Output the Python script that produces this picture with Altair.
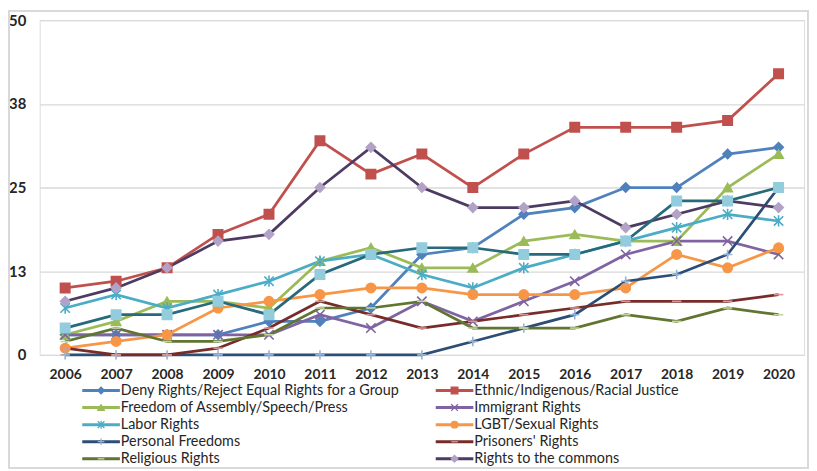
import altair as alt
import pandas as pd

years = list(range(2006, 2021))

series_names = [
    "Deny Rights/Reject Equal Rights for a Group",
    "Ethnic/Indigenous/Racial Justice",
    "Freedom of Assembly/Speech/Press",
    "Immigrant Rights",
    "Labor Rights",
    "LGBT/Sexual Rights",
    "Personal Freedoms",
    "Prisoners' Rights",
    "Religious Rights",
    "Rights to the commons",
    "Other Rights",
]

deny = [3, 3, 3, 3, 5, 5, 7, 15, 16, 21, 22, 25, 25, 30, 31]
ethnic = [10, 11, 13, 18, 21, 32, 27, 30, 25, 30, 34, 34, 34, 35, 42]
freedom = [3, 5, 8, 8, 7, 14, 16, 13, 13, 17, 18, 17, 17, 25, 30]
immigrant = [3, 3, 3, 3, 3, 6, 4, 8, 5, 8, 11, 15, 17, 17, 15]
labor = [7, 9, 7, 9, 11, 14, 15, 12, 10, 13, 15, 17, 19, 21, 20]
lgbt = [1, 2, 3, 7, 8, 9, 10, 10, 9, 9, 9, 10, 15, 13, 16]
personal = [0, 0, 0, 0, 0, 0, 0, 0, 2, 4, 6, 11, 12, 15, 25]
prisoners = [1, 0, 0, 1, 4, 8, 6, 4, 5, 6, 7, 8, 8, 8, 9]
religious = [2, 4, 2, 2, 3, 7, 7, 8, 4, 4, 4, 6, 5, 7, 6]
commons = [8, 10, 13, 17, 18, 25, 31, 25, 22, 22, 23, 19, 21, 23, 22]
other = [4, 6, 6, 8, 6, 12, 15, 16, 16, 15, 15, 17, 23, 23, 25]

all_values = [deny, ethnic, freedom, immigrant, labor, lgbt, personal,
              prisoners, religious, commons, other]

rows = []
for name, vals in zip(series_names, all_values):
    for y, v in zip(years, vals):
        rows.append({"series": name, "marker": name, "year": y, "value": v})
df = pd.DataFrame(rows)

# legend entries (first 10 series, 2 columns, row-major like the original)
legend_names = series_names[:10]
leg = pd.DataFrame({
    "series": legend_names,
    "marker": legend_names,
    "col": [i % 2 for i in range(len(legend_names))],
    "row": [i // 2 for i in range(len(legend_names))],
})

line_colors = ["#4F81BD", "#C0504D", "#9BBB59", "#8064A2", "#4BACC6", "#F79646",
               "#2C4D75", "#772C2A", "#5F7530", "#4D3B62", "#276A7C"]
marker_fill = ["#4F81BD", "#C0504D", "#9BBB59", "transparent", "transparent", "#F79646",
               "transparent", "transparent", "transparent", "#B3A2C7", "#93CDDD"]
marker_stroke = ["#4F81BD", "#C0504D", "#9BBB59", "#8064A2", "#4BACC6", "#F79646",
                 "#95B3D7", "#D99694", "#C3D69B", "#B3A2C7", "#93CDDD"]
X_PATH = "M-1,-1L1,1M-1,1L1,-1"
STAR_PATH = "M-1,-1L1,1M-1,1L1,-1M0,-1.2L0,1.2"
PLUS_PATH = "M-1,0L1,0M0,-1L0,1"
DASH_PATH = "M-1,0L1,0"
marker_shapes = ["diamond", "square", "triangle-up", X_PATH, STAR_PATH, "circle",
                 PLUS_PATH, DASH_PATH, DASH_PATH, "diamond", "square"]

FONT = "Lato"
TXT = "#262626"

color_scale = alt.Scale(domain=series_names, range=line_colors)
shape_enc = alt.Shape("marker:N", scale=alt.Scale(domain=series_names, range=marker_shapes), legend=None)
fill_enc = alt.Fill("marker:N", scale=alt.Scale(domain=series_names, range=marker_fill), legend=None)
stroke_enc = alt.Stroke("marker:N", scale=alt.Scale(domain=series_names, range=marker_stroke), legend=None)

x_enc = alt.X(
    "year:O",
    scale=alt.Scale(type="point", padding=0.5),
    axis=alt.Axis(title=None, labelAngle=0, domain=False, ticks=False, grid=False,
                  labelPadding=13, labelFont=FONT, labelFontSize=14,
                  labelFontWeight="bold", labelColor=TXT),
)
y_enc = alt.Y(
    "value:Q",
    scale=alt.Scale(domain=[0, 50], nice=False, zero=True),
    axis=alt.Axis(title=None, values=[0, 12.5, 25, 37.5, 50], format=".0f",
                  domain=False, ticks=False, labelPadding=14, labelFont=FONT,
                  labelFontSize=15, labelFontWeight="bold", labelColor=TXT,
                  gridColor="#D9D9D9", gridWidth=1.3),
)

lines = alt.Chart(df).mark_line(strokeWidth=2.75).encode(
    x=x_enc,
    y=y_enc,
    color=alt.Color("series:N", scale=color_scale, legend=None),
    order=alt.Order("year:O"),
)

points = alt.Chart(df).mark_point(size=90, strokeWidth=1.6, opacity=1).encode(
    x=x_enc,
    y=y_enc,
    shape=shape_enc,
    fill=fill_enc,
    stroke=stroke_enc,
)

main = alt.layer(lines, points)

# manual legend (own scales)
leg_x = alt.X("col:Q", scale=alt.Scale(domain=[0, 1], range=[43, 400]), axis=None)
leg_y = alt.Y("row:Q", scale=alt.Scale(domain=[0, 4], range=[374, 443]), axis=None)

leg_lines = alt.Chart(leg).mark_rule(strokeWidth=3, x2Offset=38).encode(
    x=leg_x, x2=alt.X2("col:Q"), y=leg_y,
    color=alt.Color("series:N", scale=color_scale, legend=None),
)
leg_points = alt.Chart(leg).mark_point(size=45, strokeWidth=1.3, opacity=1, xOffset=19).encode(
    x=leg_x, y=leg_y, shape=shape_enc, fill=fill_enc, stroke=stroke_enc,
)
leg_text = alt.Chart(leg).mark_text(align="left", baseline="middle", dx=39, dy=0.5,
                                    font=FONT, fontSize=14.5, color=TXT).encode(
    x=leg_x, y=leg_y, text="series:N",
)
legend = alt.layer(leg_lines, leg_points, leg_text)

frame = alt.Chart(leg).mark_rect(fill=None, stroke="#D9D9D9", strokeWidth=1.5).encode(
    x=alt.value(-31), x2=alt.value(776), y=alt.value(-9), y2=alt.value(452),
)

chart = alt.layer(main, legend, frame).resolve_scale(
    x="independent", y="independent"
).properties(
    width=772,
    height=338,
    autosize=alt.AutoSizeParams(type="none"),
    padding={"left": 32, "top": 10, "right": 5, "bottom": 115},
).configure_view(stroke=None).configure(background="white")

chart.save("out.html", embed_options={"renderer": "svg", "actions": False})
